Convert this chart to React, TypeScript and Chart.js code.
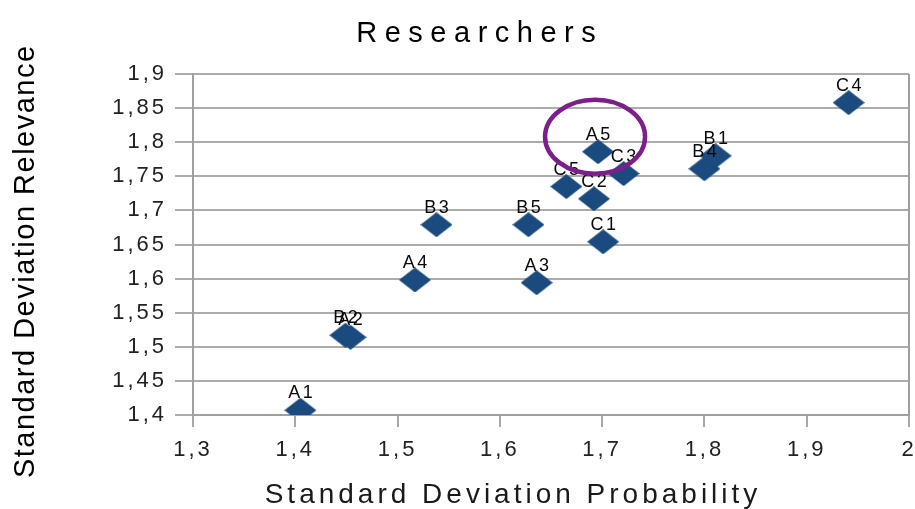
import React, { useEffect, useRef } from "react";
import { Chart, registerables } from "chart.js";

Chart.register(...registerables);

// ---- data ----
const pointLabels = ["A1", "B2", "A2", "A4", "B3", "B5", "A3", "C5", "C2", "C1", "A5", "C3", "B4", "B1", "C4"];
const probability = [1.405, 1.449, 1.454, 1.517, 1.538, 1.628, 1.636, 1.665, 1.692, 1.701, 1.696, 1.721, 1.8, 1.811, 1.941];
const relevance = [1.407, 1.517, 1.514, 1.598, 1.679, 1.679, 1.594, 1.735, 1.717, 1.654, 1.786, 1.754, 1.761, 1.78, 1.858];
const highlighted = "A5";
const chartTitle = "Researchers";
const xTitle = "Standard Deviation Probability";
const yTitle = "Standard Deviation Relevance";
const xMin = 1.3, xMax = 2, xStep = 0.1;
const yMin = 1.4, yMax = 1.9, yStep = 0.05;

const FONT = '"Liberation Sans", Arial, sans-serif';

function makeDiamond(w: number, h: number, color: string) {
  const c = document.createElement("canvas");
  c.width = w;
  c.height = h;
  const g = c.getContext("2d")!;
  g.fillStyle = color;
  g.beginPath();
  g.moveTo(w / 2, 0);
  g.lineTo(w, h / 2);
  g.lineTo(w / 2, h);
  g.lineTo(0, h / 2);
  g.closePath();
  g.fill();
  return c;
}

function fmt(v: number) {
  return String(Number(v.toFixed(2))).replace(".", ",");
}

function drawSpaced(ctx: CanvasRenderingContext2D, text: string, cx: number, y: number, ls: number) {
  (ctx as any).letterSpacing = ls + "px";
  const w = ctx.measureText(text).width;
  ctx.textAlign = "left";
  ctx.fillText(text, cx - (w - ls) / 2, y);
}

const overlay = {
  id: "overlay",
  beforeDraw(chart: any) {
    (chart.ctx as any).letterSpacing = "3px";
  },
  beforeDatasetsDraw(chart: any) {
    const { ctx, chartArea } = chart;
    ctx.save();
    ctx.strokeStyle = "#a0a0a0";
    ctx.lineWidth = 2;
    ctx.beginPath();
    ctx.moveTo(chartArea.right, chartArea.top);
    ctx.lineTo(chartArea.right, chartArea.bottom);
    ctx.stroke();
    ctx.restore();
  },
  afterDatasetsDraw(chart: any) {
    const ctx = chart.ctx as CanvasRenderingContext2D;
    const meta = chart.getDatasetMeta(0);
    ctx.save();
    ctx.font = "18px " + FONT;
    ctx.fillStyle = "#0a0a0a";
    ctx.textBaseline = "alphabetic";
    meta.data.forEach((el: any, i: number) => {
      drawSpaced(ctx, pointLabels[i], el.x, el.y - 12, 2.5);
    });
    const idx = pointLabels.indexOf(highlighted);
    const p = meta.data[idx];
    ctx.strokeStyle = "#7c1f8b";
    ctx.lineWidth = 4.5;
    ctx.beginPath();
    ctx.ellipse(p.x - 3, p.y - 15, 50, 37, 0, 0, Math.PI * 2);
    ctx.stroke();
    ctx.restore();
  },
  afterDraw(chart: any) {
    const ctx = chart.ctx as CanvasRenderingContext2D;
    ctx.save();
    ctx.textBaseline = "alphabetic";
    ctx.fillStyle = "#000";
    ctx.font = "29px " + FONT;
    drawSpaced(ctx, chartTitle, 476, 42, 7.5);
    ctx.fillStyle = "#1a1a1a";
    ctx.font = "28px " + FONT;
    drawSpaced(ctx, xTitle, 511, 503, 4);
    ctx.fillStyle = "#000";
    ctx.font = "29px " + FONT;
    ctx.translate(34, 262);
    ctx.rotate(-Math.PI / 2);
    drawSpaced(ctx, yTitle, 0, 0, 1.5);
    ctx.restore();
    (ctx as any).letterSpacing = "0px";
  },
};

export default function App() {
  const ref = useRef<HTMLCanvasElement | null>(null);
  useEffect(() => {
    if (!ref.current) return;
    const marker = makeDiamond(32, 25, "#1b4a7e");
    const chart = new Chart(ref.current, {
      type: "scatter",
      data: {
        datasets: [
          {
            data: probability.map((x, i) => ({ x, y: relevance[i] })),
            pointStyle: marker as any,
            backgroundColor: "#1b4a7e",
            borderColor: "#1b4a7e",
          },
        ],
      },
      options: {
        animation: false,
        responsive: false,
        devicePixelRatio: 1,
        layout: { padding: { left: 0, right: 6, top: 74, bottom: 0 } },
        plugins: { legend: { display: false }, tooltip: { enabled: false }, title: { display: false } },
        scales: {
          x: {
            type: "linear",
            min: xMin,
            max: xMax,
            ticks: {
              stepSize: xStep,
              callback: (v: any) => fmt(Number(v)),
              font: { family: FONT, size: 22 },
              color: "#222",
              padding: 10,
              maxRotation: 0,
              autoSkip: false,
            },
            grid: { drawOnChartArea: false, drawTicks: true, tickLength: 12, color: "#a8a8a8", lineWidth: 2 },
            border: { display: true, color: "#a0a0a0", width: 2 },
            afterFit: (s: any) => {
              s.height = 94;
              s.paddingLeft = 0;
              s.paddingRight = 0;
            },
          },
          y: {
            type: "linear",
            min: yMin,
            max: yMax,
            ticks: {
              stepSize: yStep,
              callback: (v: any) => fmt(Number(v)),
              font: { family: FONT, size: 22 },
              color: "#222",
              padding: 8,
              autoSkip: false,
            },
            grid: { drawTicks: true, tickLength: 18, color: "#acacac", lineWidth: 2 },
            border: { display: true, color: "#a0a0a0", width: 2 },
            afterFit: (s: any) => {
              s.width = 193;
              s.paddingTop = 0;
              s.paddingBottom = 0;
            },
          },
        },
      },
      plugins: [overlay],
    });
    return () => chart.destroy();
  }, []);
  return (
    <div style={{ position: "absolute", left: 0, top: 0, width: 915, height: 509, background: "#fff" }}>
      <canvas ref={ref} width={915} height={509} style={{ display: "block" }} />
    </div>
  );
}
